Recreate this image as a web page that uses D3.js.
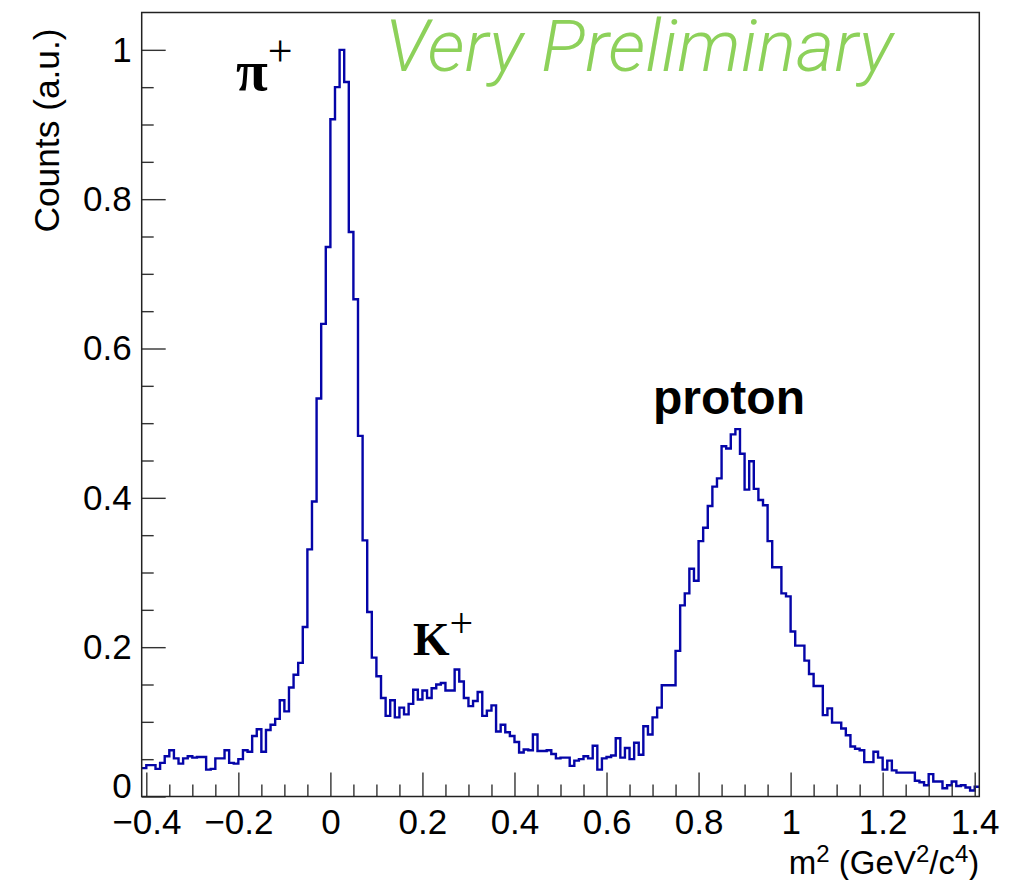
<!DOCTYPE html>
<html>
<head>
<meta charset="utf-8">
<script src="https://cdn.jsdelivr.net/npm/d3@7"></script>
<style>
  html, body { margin: 0; padding: 0; background: #fff; }
  svg { display: block; }
</style>
</head>
<body>
<svg id="chart" width="1020" height="880"></svg>
<script>
// ---- data ----
const xRange = [-0.41, 1.41];          // histogram range, 0.01 bins
const yRange = [0, 1.05];
const counts = [
  0.038, 0.042, 0.042, 0.037, 0.045, 0.054, 0.062, 0.051, 0.044, 0.051,
  0.054, 0.052, 0.053, 0.053, 0.036, 0.037, 0.051, 0.051, 0.062, 0.045,
  0.044, 0.050, 0.062, 0.060, 0.081, 0.090, 0.060, 0.089, 0.096, 0.104,
  0.129, 0.114, 0.146, 0.163, 0.179, 0.227, 0.331, 0.395, 0.533, 0.633,
  0.736, 0.907, 0.950, 1.000, 0.957, 0.756, 0.666, 0.483, 0.343, 0.247,
  0.186, 0.161, 0.132, 0.108, 0.129, 0.106, 0.119, 0.110, 0.124, 0.143,
  0.130, 0.142, 0.132, 0.145, 0.150, 0.152, 0.142, 0.142, 0.170, 0.154,
  0.132, 0.121, 0.128, 0.140, 0.108, 0.115, 0.122, 0.087, 0.096, 0.086,
  0.081, 0.073, 0.059, 0.063, 0.062, 0.083, 0.061, 0.061, 0.062, 0.057,
  0.051, 0.052, 0.052, 0.041, 0.048, 0.050, 0.054, 0.051, 0.068, 0.036,
  0.051, 0.053, 0.055, 0.078, 0.052, 0.065, 0.050, 0.072, 0.056, 0.094,
  0.083, 0.106, 0.119, 0.149, 0.149, 0.149, 0.195, 0.256, 0.272, 0.305,
  0.289, 0.342, 0.360, 0.389, 0.415, 0.426, 0.469, 0.466, 0.485, 0.492,
  0.459, 0.411, 0.449, 0.412, 0.397, 0.390, 0.342, 0.307, 0.307, 0.272,
  0.268, 0.221, 0.202, 0.202, 0.182, 0.164, 0.148, 0.148, 0.109, 0.118,
  0.099, 0.099, 0.091, 0.082, 0.067, 0.064, 0.062, 0.046, 0.046, 0.060,
  0.052, 0.036, 0.048, 0.035, 0.032, 0.032, 0.032, 0.032, 0.021, 0.019,
  0.015, 0.030, 0.020, 0.020, 0.011, 0.015, 0.020, 0.014, 0.015, 0.012,
  0.008, 0.013
];
const xTicks = [-0.4, -0.2, 0, 0.2, 0.4, 0.6, 0.8, 1, 1.2, 1.4];
const xTickLabels = ["\u22120.4", "\u22120.2", "0", "0.2", "0.4", "0.6", "0.8", "1", "1.2", "1.4"];
const xMinorTicks = [-0.35, -0.3, -0.25, -0.15, -0.1, -0.05, 0.05, 0.1, 0.15, 0.25, 0.3, 0.35,
                     0.45, 0.5, 0.55, 0.65, 0.7, 0.75, 0.85, 0.9, 0.95, 1.05, 1.1, 1.15, 1.25, 1.3, 1.35];
const yTicks = [0, 0.2, 0.4, 0.6, 0.8, 1];
const yTickLabels = ["0", "0.2", "0.4", "0.6", "0.8", "1"];
const yMinorTicks = [0.05, 0.1, 0.15, 0.25, 0.3, 0.35, 0.45, 0.5, 0.55, 0.65, 0.7, 0.75, 0.85, 0.9, 0.95];

// ---- layout ----
const svg = d3.select("#chart");
const L = 141.7, R = 979.3, T = 12.5, B = 796.5;
const x = d3.scaleLinear().domain(xRange).range([L, R]);
const y = d3.scaleLinear().domain(yRange).range([B, T]);
const axisColor = "#222";
const labelFont = "'Liberation Sans', Arial, Helvetica, sans-serif";

svg.append("rect").attr("width", 1020).attr("height", 880).attr("fill", "#fff");

// histogram (step outline)
const binW = (xRange[1] - xRange[0]) / counts.length;
const pts = counts.map((v, i) => [xRange[0] + i * binW, v]);
pts.push([xRange[1], counts[counts.length - 1]]);
const line = d3.line().x(d => x(d[0])).y(d => y(d[1])).curve(d3.curveStepAfter);
svg.append("path")
  .attr("d", line(pts))
  .attr("fill", "none")
  .attr("stroke", "#0505a8")
  .attr("stroke-width", 2.4)
  .attr("stroke-linejoin", "miter");

// axes
function styleAxis(g, fontSize) {
  g.select(".domain").remove();
  g.selectAll(".tick line").attr("stroke", "#333").attr("stroke-width", 1.4);
  g.selectAll(".tick text").attr("fill", "#000").attr("font-size", fontSize).attr("font-family", labelFont);
}
const gx = svg.append("g").attr("transform", `translate(0,${B})`)
  .call(d3.axisBottom(x).tickValues(xTicks).tickSizeInner(-24).tickSizeOuter(0).tickPadding(13)
        .tickFormat((d, i) => xTickLabels[i]));
styleAxis(gx, 35);
const gxm = svg.append("g").attr("transform", `translate(0,${B})`)
  .call(d3.axisBottom(x).tickValues(xMinorTicks).tickSizeInner(-12).tickSizeOuter(0).tickFormat(""));
styleAxis(gxm, 10);

const gy = svg.append("g").attr("transform", `translate(${L},0)`)
  .call(d3.axisLeft(y).tickValues(yTicks).tickSizeInner(-24).tickSizeOuter(0).tickPadding(10)
        .tickFormat((d, i) => yTickLabels[i]));
styleAxis(gy, 35);
// the "0" label sits a little higher, clear of "−0.4"
gy.selectAll(".tick text").filter(d => d === 0).attr("dy", "0.04em");
const gym = svg.append("g").attr("transform", `translate(${L},0)`)
  .call(d3.axisLeft(y).tickValues(yMinorTicks).tickSizeInner(-12).tickSizeOuter(0).tickFormat(""));
styleAxis(gym, 10);

// frame
svg.append("rect")
  .attr("x", L).attr("y", T).attr("width", R - L).attr("height", B - T)
  .attr("fill", "none").attr("stroke", axisColor).attr("stroke-width", 1.5);

// axis titles
svg.append("text")
  .attr("transform", `translate(59,${T + 16}) rotate(-90)`)
  .attr("text-anchor", "end")
  .attr("font-family", labelFont).attr("font-size", 35)
  .attr("textLength", 204).attr("lengthAdjust", "spacingAndGlyphs")
  .text("Counts (a.u.)");

const xt = svg.append("text")
  .attr("x", R).attr("y", 874)
  .attr("text-anchor", "end")
  .attr("font-family", labelFont).attr("font-size", 33);
xt.append("tspan").text("m");
xt.append("tspan").attr("font-size", 24).attr("dy", -12).text("2");
xt.append("tspan").attr("dy", 12).text(" (GeV");
xt.append("tspan").attr("font-size", 24).attr("dy", -12).text("2");
xt.append("tspan").attr("dy", 12).text("/c");
xt.append("tspan").attr("font-size", 24).attr("dy", -12).text("4");
xt.append("tspan").attr("dy", 12).text(")");

// watermark
svg.append("text")
  .attr("x", 385).attr("y", 71)
  .attr("font-family", "Roboto, 'Liberation Sans', sans-serif")
  .attr("font-weight", 300)
  .attr("font-style", "italic")
  .attr("font-size", 72)
  .attr("fill", "#8dd15a")
  .attr("textLength", 508).attr("lengthAdjust", "spacingAndGlyphs")
  .text("Very Preliminary");

// particle labels
const serif = "'Liberation Serif', 'Times New Roman', serif";
const pi = svg.append("text").attr("x", 236).attr("y", 90).attr("font-family", serif);
pi.append("tspan").attr("font-size", 58).attr("font-weight", "bold").text("\u03C0");
pi.append("tspan").attr("font-size", 44).attr("dy", -24).text("+");

const K = svg.append("text").attr("x", 413).attr("y", 655).attr("font-family", serif);
K.append("tspan").attr("font-size", 47).attr("font-weight", "bold").text("K");
K.append("tspan").attr("font-size", 42).attr("dy", -18).text("+");

svg.append("text")
  .attr("x", 653).attr("y", 414)
  .attr("font-family", labelFont).attr("font-weight", "bold").attr("font-size", 48)
  .text("proton");
</script>
</body>
</html>
